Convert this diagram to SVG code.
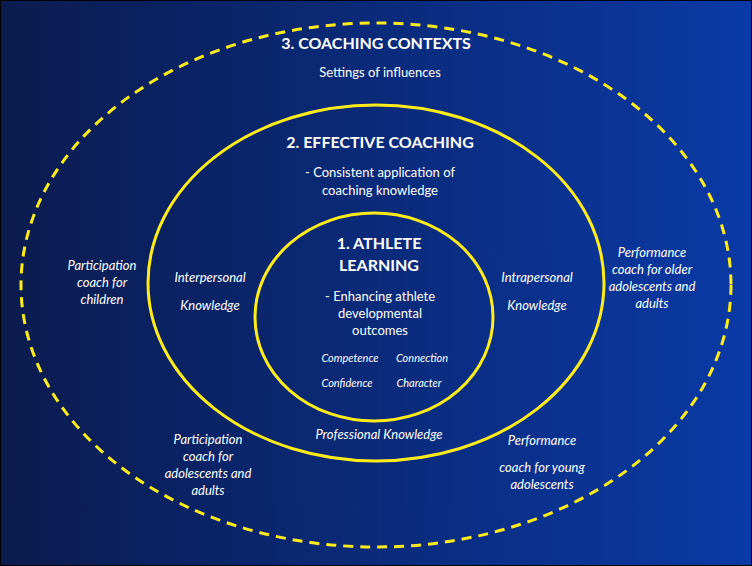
<svg xmlns="http://www.w3.org/2000/svg" width="752" height="566" viewBox="0 0 752 566">
<defs>
<linearGradient id="bg" x1="0" y1="0" x2="1" y2="0">
<stop offset="0" stop-color="#0b1b4e"/>
<stop offset="1" stop-color="#0a3aa6"/>
</linearGradient>
</defs>
<style>
text{font-family:Lato,"Open Sans",sans-serif;fill:#fff;text-anchor:middle}
.h{font-weight:bold;font-size:16px}
.n{font-size:13px}
.i{font-style:italic;font-size:13px}
.s{font-style:italic;font-size:11px}
.ring{fill:none;stroke:#ffec1a;stroke-width:3}
</style>
<rect x="0" y="0" width="752" height="566" fill="url(#bg)" stroke="#000" stroke-width="2"/>
<g id="contexts">
<ellipse class="ring" cx="376" cy="285" rx="355" ry="262" stroke-dasharray="10 7"/>
<text class="h" x="376" y="49">3. COACHING CONTEXTS</text>
<text class="n" x="380" y="77">Settings of influences</text>
<text class="i" x="102" y="270">Participation</text>
<text class="i" x="102" y="287">coach for</text>
<text class="i" x="102" y="304">children</text>
<text class="i" x="652" y="257">Performance</text>
<text class="i" x="652" y="274">coach for older</text>
<text class="i" x="652" y="291">adolescents and</text>
<text class="i" x="652" y="308">adults</text>
<text class="i" x="208" y="444">Participation</text>
<text class="i" x="208" y="461">coach for</text>
<text class="i" x="208" y="478">adolescents and</text>
<text class="i" x="208" y="495">adults</text>
<text class="i" x="542" y="445">Performance</text>
<text class="i" x="542" y="472">coach for young</text>
<text class="i" x="542" y="489">adolescents</text>
</g>
<g id="effective">
<ellipse class="ring" cx="376" cy="283" rx="228" ry="178"/>
<text class="h" x="380" y="148">2. EFFECTIVE COACHING</text>
<text class="n" x="380" y="177">- Consistent application of</text>
<text class="n" x="380" y="195">coaching knowledge</text>
<text class="i" x="210" y="282">Interpersonal</text>
<text class="i" x="210" y="310">Knowledge</text>
<text class="i" x="537" y="282">Intrapersonal</text>
<text class="i" x="537" y="310">Knowledge</text>
<text class="i" x="379" y="439">Professional Knowledge</text>
</g>
<g id="athlete">
<ellipse class="ring" cx="374" cy="317" rx="119" ry="104"/>
<text class="h" x="379" y="249">1. ATHLETE</text>
<text class="h" x="379" y="271">LEARNING</text>
<text class="n" x="380" y="301">- Enhancing athlete</text>
<text class="n" x="380" y="318">developmental</text>
<text class="n" x="380" y="335">outcomes</text>
<text class="s" x="350" y="362">Competence</text>
<text class="s" x="422" y="362">Connection</text>
<text class="s" x="347" y="387">Confidence</text>
<text class="s" x="419" y="387">Character</text>
</g>
<g id="connectors"/>
</svg>
